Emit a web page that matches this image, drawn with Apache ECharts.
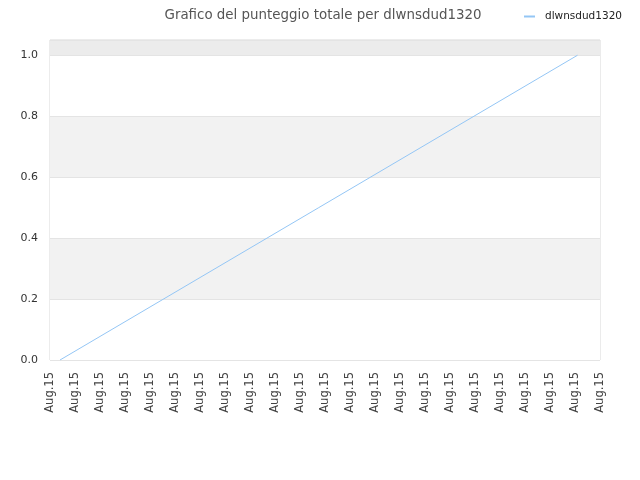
<!DOCTYPE html>
<html>
<head>
<meta charset="utf-8">
<script src="https://cdn.jsdelivr.net/npm/echarts@6/dist/echarts.min.js"></script>
<style>
  html, body { margin: 0; padding: 0; background: #fff; }
  #chart { width: 640px; height: 480px; }
</style>
</head>
<body>
<div id="chart"></div>
<script>
const playerName = 'dlwnsdud1320';
const tickLabels = ['Aug.15', 'Aug.15', 'Aug.15', 'Aug.15', 'Aug.15', 'Aug.15', 'Aug.15', 'Aug.15',
  'Aug.15', 'Aug.15', 'Aug.15', 'Aug.15', 'Aug.15', 'Aug.15', 'Aug.15', 'Aug.15', 'Aug.15',
  'Aug.15', 'Aug.15', 'Aug.15', 'Aug.15', 'Aug.15', 'Aug.15'];
// positions along the time axis (in tick units) and total score
const timePos = [0.4, 21.1];
const scores = [0, 1];

const chart = echarts.init(document.getElementById('chart'));

var option = {
  animation: false,
  title: {
    text: 'Grafico del punteggio totale per ' + playerName,
    left: 318,
    textAlign: 'center',
    top: 4,
    textStyle: {
      fontFamily: 'DejaVu Sans',
      fontSize: 13.4,
      fontWeight: 'normal',
      color: '#555'
    }
  },
  legend: {
    right: 13,
    top: 6,
    itemWidth: 11,
    itemHeight: 2,
    icon: 'rect',
    textStyle: {
      fontFamily: 'DejaVu Sans',
      fontSize: 10.5,
      color: '#222',
      padding: [0, 0, 0, 5]
    },
    data: [playerName]
  },
  grid: {
    left: 50,
    right: 40,
    top: 40,
    bottom: 120,
    show: true,
    borderColor: '#d8d8d8',
    borderWidth: 1
  },
  xAxis: {
    type: 'value',
    min: 0,
    max: tickLabels.length - 1,
    interval: 1,
    axisLine: { show: false },
    axisTick: { show: false },
    splitLine: { show: false },
    axisLabel: {
      rotate: 90,
      margin: 12,
      fontFamily: 'DejaVu Sans',
      fontSize: 11.5,
      color: '#444',
      formatter: function (v) { return tickLabels[Math.round(v)]; }
    }
  },
  yAxis: {
    type: 'value',
    min: 0,
    max: 1.05,
    interval: 0.2,
    axisLine: { show: false },
    axisTick: { show: false },
    axisLabel: {
      fontFamily: 'DejaVu Sans',
      fontSize: 11,
      color: '#333',
      margin: 12,
      showMaxLabel: false,
      formatter: function (v) { return v.toFixed(1); }
    },
    splitLine: { lineStyle: { color: '#e4e4e4' } },
    splitArea: {
      show: true,
      areaStyle: { color: ['#ffffff', '#f2f2f2', '#ffffff', '#f2f2f2', '#ffffff', '#ececec'] }
    }
  },
  series: [
    {
      name: playerName,
      type: 'line',
      showSymbol: false,
      data: timePos.map(function (t, i) { return [t, scores[i]]; }),
      lineStyle: { color: '#94c6f5', width: 1 },
      itemStyle: { color: '#94c6f5' }
    }
  ]
};

chart.setOption(option);
</script>
</body>
</html>
